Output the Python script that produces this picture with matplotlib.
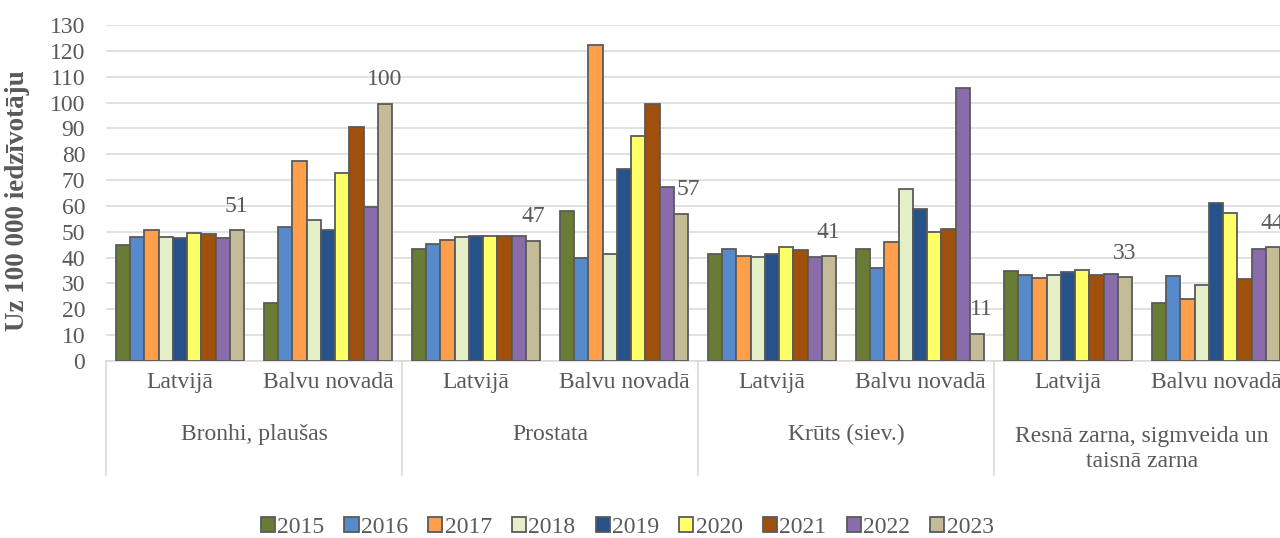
import numpy as np
import matplotlib
matplotlib.use("Agg")
import matplotlib.pyplot as plt
from matplotlib.transforms import blended_transform_factory

#---------- Data ----------#

groups = ["Bronhi, plaušas", "Prostata", "Krūts (siev.)",
          "Resnā zarna, sigmveida un\ntaisnā zarna"]
places = ["Latvijā", "Balvu novadā"]
years = ["2015", "2016", "2017", "2018", "2019", "2020", "2021", "2022", "2023"]

# one list per year, 8 values: (group x place) in order
v2015 = [45.0, 22.6, 43.2, 57.9, 41.5, 43.4, 34.7, 22.6]
v2016 = [47.8, 52.0, 45.1, 39.7, 43.2, 36.0, 33.4, 32.9]
v2017 = [50.7, 77.5, 47.0, 122.1, 40.6, 46.2, 32.0, 23.9]
v2018 = [48.1, 54.5, 47.8, 41.3, 40.2, 66.7, 33.1, 29.5]
v2019 = [47.6, 50.7, 48.5, 74.4, 41.4, 58.7, 34.3, 61.0]
v2020 = [49.5, 72.8, 48.5, 86.9, 44.0, 50.0, 35.1, 57.1]
v2021 = [49.0, 90.5, 48.5, 99.6, 42.9, 51.2, 33.3, 31.6]
v2022 = [47.6, 59.7, 48.2, 67.3, 40.4, 105.5, 33.5, 43.3]
v2023 = [50.6, 99.6, 46.6, 56.9, 40.6, 10.6, 32.4, 44.0]
values = [v2015, v2016, v2017, v2018, v2019, v2020, v2021, v2022, v2023]

labels_2023 = ["51", "100", "47", "57", "41", "11", "33", "44"]

colors = ["#687C34", "#578ACB", "#FF9E4B", "#E5F0C9", "#26528A",
          "#FFFF66", "#A0500D", "#8A6BAC", "#C4BC96"]

#---------- Plot ----------#

plt.rcParams['font.family'] = ['Liberation Serif', 'DejaVu Serif']
txt = "#595959"
fs = 17

fig = plt.figure(figsize=(12.8, 5.38), dpi=100)
ax = fig.add_axes([106 / 1280, 177 / 538, 1184 / 1280, 336 / 538])

n = len(years)
w = 0.096
x = np.arange(len(groups) * len(places))

for i, (yr, vals) in enumerate(zip(years, values)):
    ax.bar(x + (i - (n - 1) / 2) * w, vals, width=w, color=colors[i],
           edgecolor="#5a5a5a", linewidth=1.3, label=yr, zorder=3)

# value labels above last year's bars
dx = [0, 0, 0, 7, 0, 5, 0, 0]
xl = x + (n - 1) / 2 * w
for k in range(len(x)):
    ax.annotate(labels_2023[k], (xl[k], v2023[k]), xytext=(dx[k], 24),
                textcoords="offset pixels", ha="center", va="center",
                fontsize=fs, color=txt)

ax.set_ylim(0, 130)
ax.set_yticks(np.arange(0, 131, 10))
ax.set_xlim(-0.5, len(x) - 0.5)
ax.grid(axis="y", color="#D9D9D9", linewidth=1.1, zorder=0)
for s in ["top", "right", "left"]:
    ax.spines[s].set_visible(False)
ax.spines["bottom"].set_color("#D9D9D9")
ax.spines["bottom"].set_linewidth(1.1)
ax.tick_params(axis="y", length=0, labelsize=fs, labelcolor=txt, pad=15)
ax.tick_params(axis="x", length=0, labelsize=fs, labelcolor=txt, pad=8)
ax.set_xticks(x)
ax.set_xticklabels(places * len(groups))

fig.text(18 / 1280, 0.628, "Uz 100 000 iedzīvotāju", rotation=90,
         ha="center", va="center", fontsize=19.5, fontweight="bold", color=txt)

# group labels and separators
tr = blended_transform_factory(ax.transData, ax.transAxes)
for g, name in enumerate(groups):
    ax.text(2 * g + 0.5, -0.262 if "\n" in name else -0.22, name,
            transform=tr, ha="center", va="center", fontsize=fs, color=txt,
            linespacing=1.25)
for b in np.arange(-0.5, len(x), 2):
    ax.plot([b, b], [0, -0.34], transform=tr, color="#D9D9D9",
            linewidth=1.1, clip_on=False)

fig.legend(loc="center", bbox_to_anchor=(0.49, 0.02), ncol=n, frameon=False,
           fontsize=fs, handlelength=0.6, handleheight=0.6,
           handletextpad=0.1, columnspacing=0.85, labelcolor=txt)

plt.savefig("out.png", dpi=100)
